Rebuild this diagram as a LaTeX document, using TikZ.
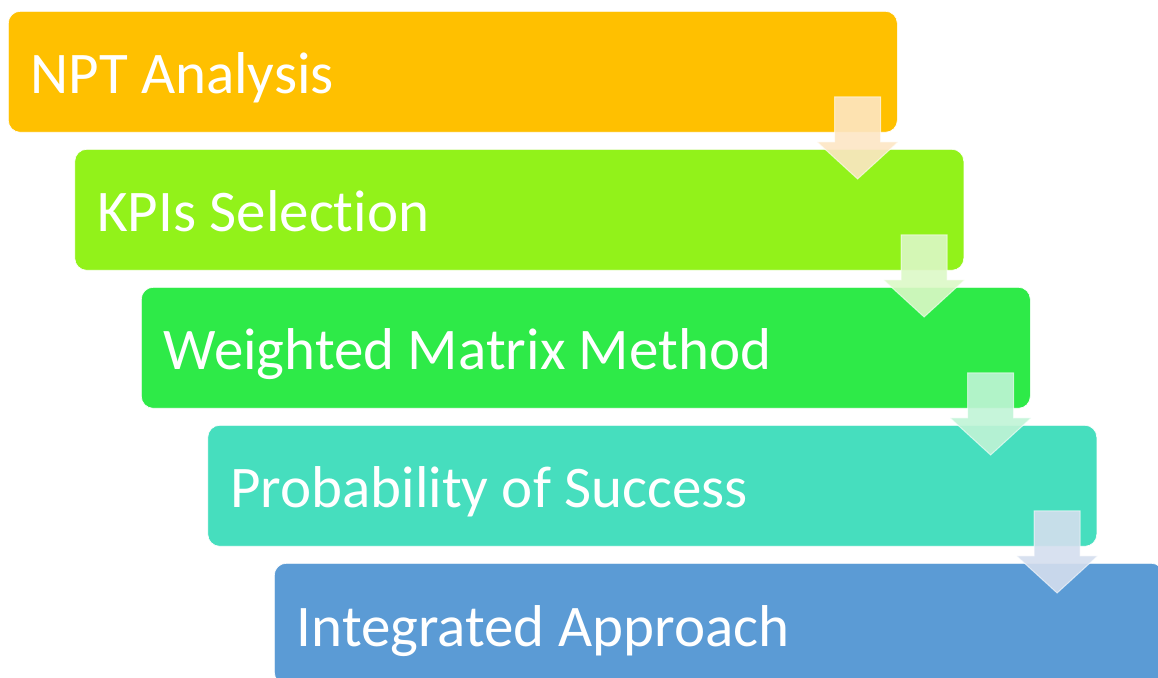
\documentclass[tikz,border=0pt]{standalone}
\usepackage{fontspec}
\setmainfont{Carlito}[Ligatures=NoCommon]
\usetikzlibrary{positioning}

\definecolor{npt}{RGB}{255,192,0}
\definecolor{kpi}{RGB}{146,242,26}
\definecolor{wmm}{RGB}{46,234,72}
\definecolor{pos}{RGB}{70,222,190}
\definecolor{iap}{RGB}{91,155,213}
\definecolor{nptarrow}{RGB}{253,230,196}
\definecolor{kpiarrow}{RGB}{220,248,198}
\definecolor{wmmarrow}{RGB}{192,244,214}
\definecolor{posarrow}{RGB}{212,222,238}

\tikzset{
  stage/.style={rectangle, rounded corners=12pt, draw=white, line width=0.6pt,
    anchor=north west, minimum width=889pt, minimum height=121pt, inner sep=0pt},
  caption/.style={anchor=base west, inner sep=0pt, text=white,
    font=\fontsize{59}{63}\selectfont},
  flow/.style={draw=white, draw opacity=0.6, line width=1pt, fill opacity=0.9},
  pics/downarrow/.style={code={
    \path[flow, fill=#1] (-23pt,0pt) -- (23pt,0pt) -- (23pt,-45pt) -- (40.5pt,-45pt)
      -- (0pt,-82pt) -- (-40.5pt,-45pt) -- (-23pt,-45pt) -- cycle;}}
}

\begin{document}
\begin{tikzpicture}[x=1pt,y=1pt]
  \useasboundingbox (0,0) rectangle (1158,677);
  \clip (0,0) rectangle (1158,677);

  % steps, each one shifted down and right of the last
  \node[stage, fill=npt] (a) at (8,666) {};
  \node[stage, fill=kpi] (b) at ([xshift=66.5pt,yshift=-138pt]a.north west) {};
  \node[stage, fill=wmm] (c) at ([xshift=66.5pt,yshift=-138pt]b.north west) {};
  \node[stage, fill=pos] (d) at ([xshift=66.5pt,yshift=-138pt]c.north west) {};
  \node[stage, fill=iap] (e) at ([xshift=66.5pt,yshift=-138pt]d.north west) {};

  \node[caption] (ta) at ([xshift=22.5pt,yshift=-83pt]a.north west) {NPT Analysis};
  \node[caption] (tb) at ([xshift=22.5pt,yshift=-83pt]b.north west) {KPIs Selection};
  \node[caption] (tc) at ([xshift=22.5pt,yshift=-83pt]c.north west) {Weighted Matrix Method};
  \node[caption] (td) at ([xshift=22.5pt,yshift=-83pt]d.north west) {Probability of Success};
  \node[caption] (te) at ([xshift=22.5pt,yshift=-83pt]e.north west) {Integrated Approach};

  % arrows from one step to the next
  \pic at ([xshift=-40pt,yshift=-86pt]a.north east) {downarrow=nptarrow};
  \pic at ([xshift=-40pt,yshift=-86pt]b.north east) {downarrow=kpiarrow};
  \pic at ([xshift=-40pt,yshift=-86pt]c.north east) {downarrow=wmmarrow};
  \pic at ([xshift=-40pt,yshift=-86pt]d.north east) {downarrow=posarrow};
\end{tikzpicture}
\end{document}
